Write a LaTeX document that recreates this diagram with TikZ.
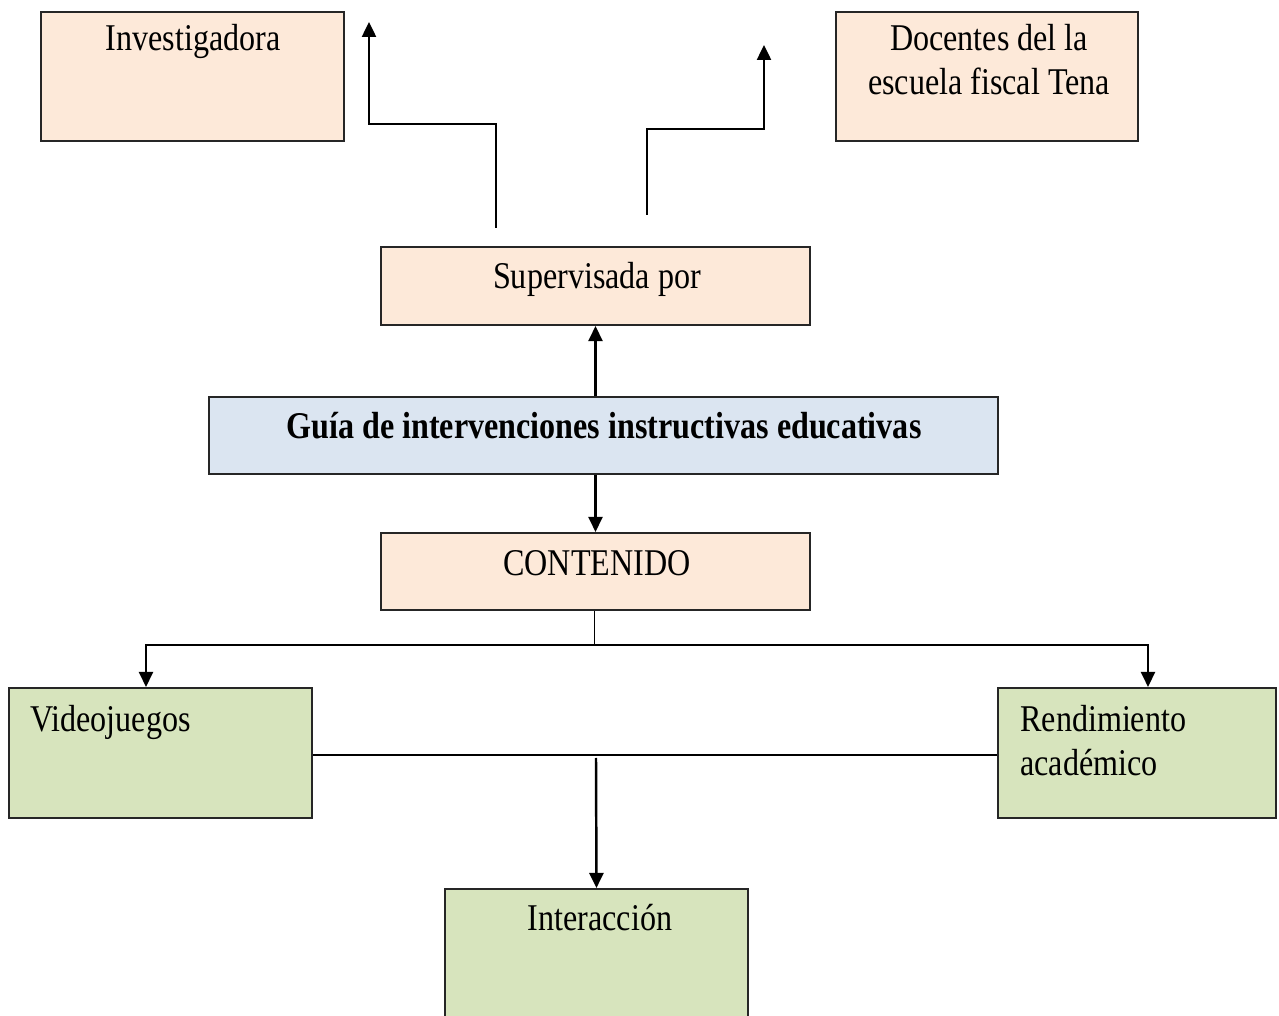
\documentclass[tikz,border=0pt]{standalone}
\usepackage{fontspec}
\setmainfont[FakeStretch=0.85]{Liberation Serif}
\usetikzlibrary{arrows.meta}
\definecolor{boxpeach}{HTML}{FDE9D9}
\definecolor{boxblue}{HTML}{DBE5F1}
\definecolor{boxgreen}{HTML}{D7E4BD}
\begin{document}
\begin{tikzpicture}[x=0.02cm, y=-0.02cm,
    box/.style={draw=black!85, line width=1.2pt, inner sep=0pt},
    txt/.style={inner sep=0pt, font=\fontsize{21.5}{25}\selectfont},
    arr/.style={line width=1.4pt, -{Triangle[length=0.3cm, width=0.28cm]}}]
    \useasboundingbox (0,0) rectangle (1279,1016);

    % Top row
    \node[box, fill=boxpeach, minimum width=6.06cm, minimum height=2.58cm] (inv) at (192.5,76.5) {};
    \node[txt, anchor=north] (invt) at (193,24) {Investigadora};
    \node[box, fill=boxpeach, minimum width=6.04cm, minimum height=2.58cm] (doc) at (987,76.5) {};
    \node[txt, anchor=north, align=center] (doct) at (989,24) {Docentes del la\\escuela fiscal Tena};

    % Middle column
    \node[box, fill=boxpeach, minimum width=8.58cm, minimum height=1.56cm] (sup) at (595.5,286) {};
    \node[txt, anchor=north] (supt) at (597,262) {Supervisada por};
    \node[box, fill=boxblue, minimum width=15.78cm, minimum height=1.54cm] (guia) at (603.5,435.5) {};
    \node[txt, anchor=north, font=\fontsize{21.5}{25}\selectfont\bfseries] (guiat) at (604,412) {Guía de intervenciones instructivas educativas};
    \node[box, fill=boxpeach, minimum width=8.58cm, minimum height=1.54cm] (cont) at (595.5,571.5) {};
    \node[txt, anchor=north] (contt) at (597,550) {CONTENIDO};

    % Bottom row
    \node[box, fill=boxgreen, minimum width=6.06cm, minimum height=2.6cm] (vid) at (160.5,753) {};
    \node[txt, anchor=north west] (vidt) at (30,705) {Videojuegos};
    \node[box, fill=boxgreen, minimum width=5.56cm, minimum height=2.6cm] (ren) at (1137,753) {};
    \node[txt, anchor=north west, align=left] (rent) at (1020,705) {Rendimiento\\académico};
    \node[box, fill=boxgreen, minimum width=6.06cm, minimum height=2.9cm] (inter) at (596.5,961.5) {};
    \node[txt, anchor=north] (intert) at (600,904) {Interacción};

    % Free ends
    \coordinate (s1) at (496,228);
    \coordinate (k1) at (369,124);
    \coordinate (t1) at (369,22);
    \coordinate (s2) at (647,215);
    \coordinate (k2) at (764,129);
    \coordinate (t2) at (764,45);
    \coordinate (bl) at (146,645);
    \coordinate (br) at (1148,645);
    \coordinate (bm) at (594,645);
    \coordinate (im) at (596,758);

    % Connectors
    \draw[arr] (s1) |- (k1) -- (t1);
    \draw[arr] (s2) |- (k2) -- (t2);
    \draw[arr] (guia.north -| sup.south) -- (sup.south);
    \draw[arr] (cont.north |- guia.south) -- (cont.north);
    \draw[thin] (cont.south -| bm) -- (bm);
    \draw[arr] (bm) -- (bl) -- (bl |- vid.north);
    \draw[arr] (bm) -- (br) -- (br |- ren.north);
    \draw[line width=1.2pt] (vid.east |- 0,755) -- (ren.west |- 0,755);
    \draw[arr] (im) -- (inter.north);
\end{tikzpicture}
\end{document}
